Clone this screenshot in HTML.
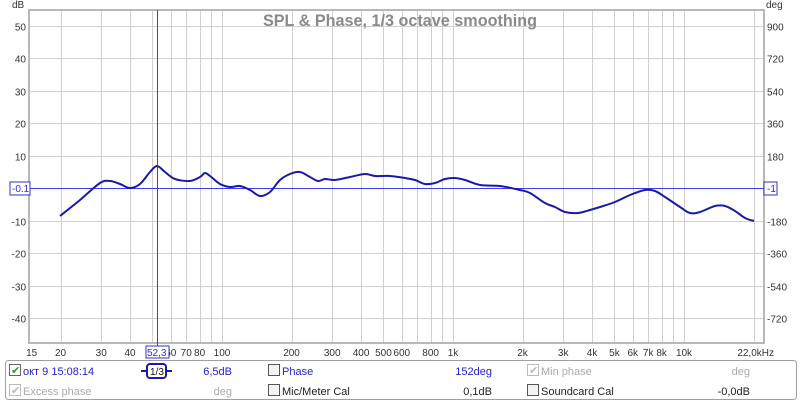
<!DOCTYPE html>
<html><head><meta charset="utf-8"><style>
body{margin:0;background:#fff;width:800px;height:403px;overflow:hidden}
svg text{font-family:"Liberation Sans",sans-serif}
</style></head><body>
<svg id="s" width="800" height="403" xmlns="http://www.w3.org/2000/svg">
<rect width="800" height="403" fill="#fff"/>
<g id="grid" stroke="#d0d0d0" stroke-width="1"></g>
<text x="400" y="26" text-anchor="middle" font-size="16.2" font-weight="bold" fill="#8a8a8a">SPL &amp; Phase, 1/3 octave smoothing</text>
<rect x="29" y="10" width="735" height="333" fill="none" stroke="#b8b8b8" stroke-width="2"/>
<g id="lab" font-size="10" fill="#333"></g>
<line x1="30" y1="188.5" x2="764" y2="188.5" stroke="#3c3cf0" stroke-width="1"/>
<line x1="157.5" y1="10" x2="157.5" y2="346" stroke="#3c3cf0" stroke-width="1"/>
<rect x="10" y="182" width="20" height="13" fill="#fff" stroke="#3030d0"/>
<text x="12" y="192" font-size="10" fill="#3030d0">-0.1</text>
<rect x="764" y="182" width="13" height="13" fill="#fff" stroke="#3030d0"/>
<text x="767" y="192" font-size="10" fill="#3030d0">-1</text>
<path fill="none" stroke="#1a1aa8" stroke-width="2" stroke-linejoin="round" id="curve"/>
<rect x="146" y="346" width="23" height="12" fill="#fff" stroke="#3030d0"/>
<text x="147" y="356" font-size="10" fill="#3030d0">52,3</text>
<rect x="5.5" y="360.5" width="791" height="39" rx="3" fill="#fff" stroke="#a0a0a0"/>
<g font-size="11">
<rect x="9.5" y="364.5" width="11" height="11" fill="#fff" stroke="#666"/><text x="11" y="374" fill="#2a9a2a" font-size="11">✔</text>
<text x="23" y="375" fill="#2222cc">окт 9 15:08:14</text>
<line x1="141" y1="371" x2="172" y2="371" stroke="#1a1aa8" stroke-width="2"/>
<rect x="147" y="364" width="19" height="14" rx="3" fill="#fff" stroke="#1a1aa8" stroke-width="2"/>
<text x="150" y="375" fill="#111" font-size="10">1/3</text>
<text x="232" y="375" text-anchor="end" fill="#2222cc">6,5dB</text>
<rect x="268.5" y="364.5" width="11" height="11" fill="#f4f4f4" stroke="#555"/>
<text x="282" y="375" fill="#2222cc">Phase</text>
<text x="492" y="375" text-anchor="end" fill="#2222cc">152deg</text>
<rect x="527.5" y="364.5" width="11" height="11" fill="#fff" stroke="#bbb"/><text x="529" y="374" fill="#bbb">✔</text>
<text x="541" y="375" fill="#aaa">Min phase</text>
<text x="750" y="375" text-anchor="end" fill="#aaa">deg</text>
<rect x="9.5" y="384.5" width="11" height="11" fill="#fff" stroke="#bbb"/><text x="11" y="394" fill="#bbb">✔</text>
<text x="23" y="395" fill="#aaa">Excess phase</text>
<text x="232" y="395" text-anchor="end" fill="#aaa">deg</text>
<rect x="268.5" y="384.5" width="11" height="11" fill="#f4f4f4" stroke="#555"/>
<text x="282" y="395" fill="#222">Mic/Meter Cal</text>
<text x="492" y="395" text-anchor="end" fill="#222">0,1dB</text>
<rect x="527.5" y="384.5" width="11" height="11" fill="#f4f4f4" stroke="#555"/>
<text x="541" y="395" fill="#222">Soundcard Cal</text>
<text x="750" y="395" text-anchor="end" fill="#222">-0,0dB</text>
</g>
</svg>
<script>
var ns="http://www.w3.org/2000/svg",g=document.getElementById('grid'),lab=document.getElementById('lab');
function el(p,t,a,txt){var e=document.createElementNS(ns,t);for(var k in a)e.setAttribute(k,a[k]);if(txt!=null)e.textContent=txt;p.appendChild(e);return e;}
function X(f){return 222+231*Math.log10(f/100);}
var fs=[20,30,40,50,60,70,80,90,100,200,300,400,500,600,700,800,900,1000,2000,3000,4000,5000,6000,7000,8000,9000,10000,20000];
fs.forEach(function(f){var x=Math.round(X(f))+0.5;el(g,'line',{x1:x,y1:10,x2:x,y2:343});});
for(var d=-40;d<=50;d+=10){var y=Math.round(188-3.25*d)+0.5;el(g,'line',{x1:29,y1:y,x2:764,y2:y});
 el(lab,'text',{x:26,y:y+4,'text-anchor':'end'},d==0?'':String(d));}
el(lab,'text',{x:12,y:8},'dB');el(lab,'text',{x:766,y:8},'deg');
[900,720,540,360,180].forEach(function(v,i){var y=Math.round(188-3.25*(50-10*i))+0.5;el(lab,'text',{x:767,y:y+4},String(v));});
[-180,-360,-540,-720].forEach(function(v,i){var y=Math.round(188-3.25*(-10-10*i))+0.5;el(lab,'text',{x:767,y:y+4},String(v));});
var tl={15:'15',20:'20',30:'30',40:'40',60:'60',70:'70',80:'80',100:'100',200:'200',300:'300',400:'400',500:'500',600:'600',800:'800',1000:'1k',2000:'2k',3000:'3k',4000:'4k',5000:'5k',6000:'6k',7000:'7k',8000:'8k',10000:'10k'};
for(var f in tl){el(lab,'text',{x:X(+f),y:356,'text-anchor':'middle'},tl[f]);}
el(lab,'text',{x:774,y:356,'text-anchor':'end'},'22,0kHz');
var p=[[60,216],[80,200],[100,183],[110,181],[120,184],[130,188],[140,184],[150,172],[157,166],[165,172],[175,179],[190,181],[200,177],[205,173],[210,176],[220,184],[230,187],[240,186],[250,190],[260,196],[270,192],[280,180],[290,174],[300,172],[310,177],[318,181],[325,179],[335,180],[350,177],[365,174],[375,176],[390,176],[405,178],[415,180],[425,184],[435,183],[445,179],[455,178],[465,180],[480,185],[500,186],[520,190],[530,193],[545,203],[555,207],[565,212],[578,213],[590,210],[600,207],[615,202],[630,195],[645,190],[655,191],[665,197],[680,207],[690,213],[700,212],[715,206],[725,206],[735,211],[745,218],[754,221]];
var d='M'+p[0];for(var i=0;i<p.length-1;i++){var p0=p[Math.max(0,i-1)],p1=p[i],p2=p[i+1],p3=p[Math.min(p.length-1,i+2)];
d+=' C'+(p1[0]+(p2[0]-p0[0])/6)+','+(p1[1]+(p2[1]-p0[1])/6)+' '+(p2[0]-(p3[0]-p1[0])/6)+','+(p2[1]-(p3[1]-p1[1])/6)+' '+p2[0]+','+p2[1];}
document.getElementById('curve').setAttribute('d',d);
</script>
</body></html>
